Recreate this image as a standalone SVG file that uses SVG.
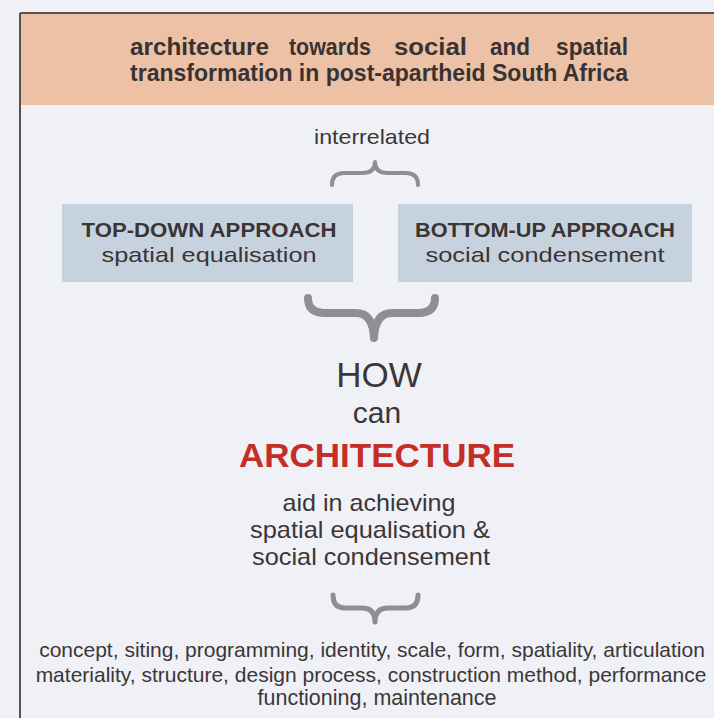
<svg xmlns="http://www.w3.org/2000/svg" width="714" height="718" viewBox="0 0 714 718">
  <style>
    .title { font-family: "Liberation Sans", Arial, sans-serif; font-weight: bold; font-size: 24px; fill: #3a3232; }
    .boxhead { font-family: "Liberation Sans", Arial, sans-serif; font-weight: bold; font-size: 21px; fill: #3a3434; text-anchor: middle; }
    .boxsub { font-family: "Liberation Sans", Arial, sans-serif; font-size: 21px; fill: #3a3434; text-anchor: middle; }
    .body { font-family: "Liberation Sans", Arial, sans-serif; fill: #3c3636; text-anchor: middle; }
    .box { fill: #c6d3df; }
    .brace { fill: none; stroke: #8e8e96; stroke-linecap: round; stroke-linejoin: round; }
  </style>
  <rect x="0" y="0" width="714" height="718" fill="#eff1f6"/>
  <g id="frame">
    <rect x="20" y="13" width="700" height="92" fill="#ecc1a5"/>
    <line x1="20" y1="13" x2="714" y2="13" stroke="#5e5050" stroke-width="2"/>
    <line x1="20" y1="13" x2="20" y2="718" stroke="#5e5050" stroke-width="2"/>
  </g>
  <g id="title">
    <text class="title" y="55"><tspan x="130" textLength="139" lengthAdjust="spacingAndGlyphs">architecture</tspan><tspan x="289" textLength="82" lengthAdjust="spacingAndGlyphs">towards</tspan><tspan x="394" textLength="73" lengthAdjust="spacingAndGlyphs">social</tspan><tspan x="490" textLength="40" lengthAdjust="spacingAndGlyphs">and</tspan><tspan x="556" textLength="72" lengthAdjust="spacingAndGlyphs">spatial</tspan></text>
    <text class="title" x="130" y="81" textLength="498" lengthAdjust="spacingAndGlyphs">transformation in post-apartheid South Africa</text>
  </g>
  <g id="interrelated">
    <text class="body" x="372" y="144" font-size="21" textLength="116" lengthAdjust="spacingAndGlyphs">interrelated</text>
  </g>
  <g id="top-down">
    <rect class="box" x="62" y="204" width="291" height="78"/>
    <text class="boxhead" x="209" y="237" textLength="255" lengthAdjust="spacingAndGlyphs">TOP-DOWN APPROACH</text>
    <text class="boxsub" x="209" y="262" textLength="215" lengthAdjust="spacingAndGlyphs">spatial equalisation</text>
  </g>
  <g id="bottom-up">
    <rect class="box" x="398" y="204" width="294" height="78"/>
    <text class="boxhead" x="545" y="237" textLength="260" lengthAdjust="spacingAndGlyphs">BOTTOM-UP APPROACH</text>
    <text class="boxsub" x="545" y="262" textLength="239" lengthAdjust="spacingAndGlyphs">social condensement</text>
  </g>
  <g id="connectors">
    <path class="brace" stroke-width="4" d="M332,185 Q332,173 344,173 L362,173 Q375,173 375,162 Q375,173 388,173 L406,173 Q418,173 418,185"/>
    <path class="brace" stroke="#a2a2aa" stroke-width="8" d="M308,298 Q308,313 325,313 L356,313 Q373,313 374,338 Q375,313 392,313 L418,313 Q435,313 435,298"/>
    <path class="brace" stroke-width="5" d="M333,595 Q333,608 345,608 L362,608 Q375,608 375,622 Q375,608 388,608 L406,608 Q418,608 418,595"/>
  </g>
  <g id="question">
    <text class="body" x="379" y="387" font-size="35">HOW</text>
    <text class="body" x="377" y="423" font-size="30">can</text>
    <text class="body" x="377" y="467" font-size="34" font-weight="bold" style="fill:#c42e28" textLength="276" lengthAdjust="spacingAndGlyphs">ARCHITECTURE</text>
    <text class="body" x="369" y="511" font-size="24" textLength="173" lengthAdjust="spacingAndGlyphs">aid in achieving</text>
    <text class="body" x="370" y="538" font-size="24" textLength="240" lengthAdjust="spacingAndGlyphs">spatial equalisation &amp;</text>
    <text class="body" x="371" y="565" font-size="24" textLength="238" lengthAdjust="spacingAndGlyphs">social condensement</text>
  </g>
  <g id="aspects">
    <text class="body" x="372" y="657" font-size="21">concept, siting, programming, identity, scale, form, spatiality, articulation</text>
    <text class="body" x="371" y="682" font-size="21">materiality, structure, design process, construction method, performance</text>
    <text class="body" x="377" y="705" font-size="22" textLength="239" lengthAdjust="spacingAndGlyphs">functioning, maintenance</text>
  </g>
</svg>
